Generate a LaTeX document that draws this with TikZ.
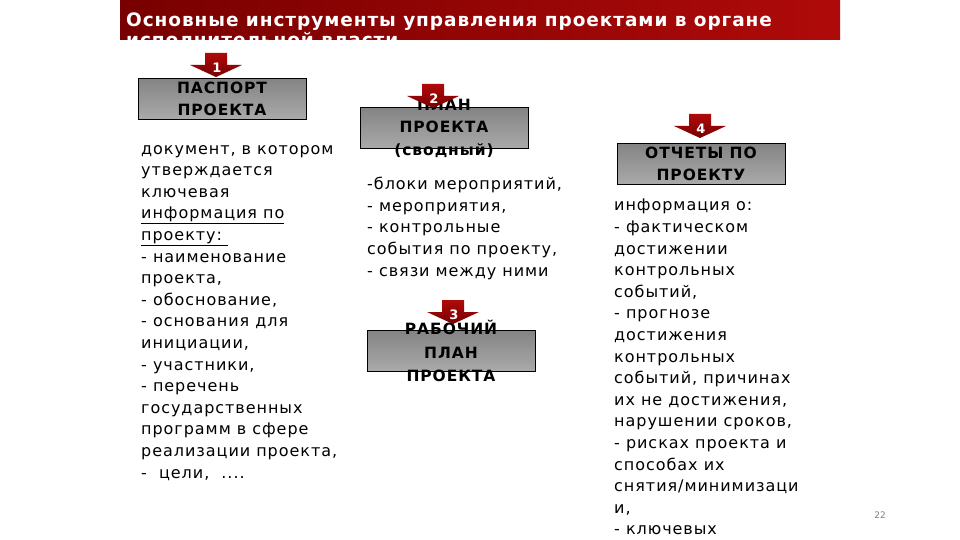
\documentclass[tikz,border=0pt]{standalone}
\usepackage{fontspec}
\setmainfont{DejaVu Sans}
\usepackage{xcolor}
\usetikzlibrary{positioning,calc}
\definecolor{darkred}{RGB}{120,0,0}
\definecolor{brightred}{RGB}{175,10,10}
\definecolor{boxgray}{RGB}{155,155,155}

\begin{document}
\begin{tikzpicture}[x=1pt, y=-1pt,
  boxshape/.style={draw=black, line width=0.6pt, top color=boxgray!85!black, bottom color=boxgray!85!white, minimum width=168pt, minimum height=41pt, inner sep=0pt},
  boxtext/.style={font=\fontsize{15.5}{22.5}\selectfont\bfseries\addfontfeature{LetterSpace=6}, align=center, inner sep=0pt},
  bodytext/.style={font=\fontsize{16}{21.6}\selectfont\addfontfeature{LetterSpace=6}, align=left, anchor=north west, inner sep=0pt},
  numtext/.style={font=\fontsize{13}{13}\selectfont\bfseries, text=white, inner sep=0pt}]
\useasboundingbox (0,0) rectangle (960,540);
\fill[white] (0,0) rectangle (960,540);

% title bar
\shade[left color=darkred, right color=brightred] (120,0) rectangle (840,40);
\begin{scope}
\clip (120,0) rectangle (840,40);
\node[font=\fontsize{18.5}{20}\selectfont\bfseries\addfontfeature{LetterSpace=5}, text=white, align=left, anchor=north west, inner sep=0pt] (title) at (126,13) {Основные инструменты управления проектами в органе\\исполнительной власти};
\end{scope}

% boxes
\node[boxshape] (passport) at (222,99) {};
\node[boxshape] (plan) at (444,128) {};
\node[boxshape] (reports) at (701,164) {};
\node[boxshape] (workplan) at (451,351) {};
\node[boxtext] (passporttext) at (passport) {ПАСПОРТ\\ПРОЕКТА};
\node[boxtext] (plantext) at (plan) {ПЛАН\\ПРОЕКТА\\(сводный)};
\node[boxtext] (reportstext) at (reports) {ОТЧЕТЫ ПО\\ПРОЕКТУ};
\node[boxtext, font=\fontsize{15.5}{23.5}\selectfont\bfseries\addfontfeature{LetterSpace=6}] (workplantext) at (workplan) {РАБОЧИЙ\\ПЛАН\\ПРОЕКТА};

% numbered arrows
\foreach \cx/\tip/\num/\nm in {216/77/1/arrpassport, 433/108/2/arrplan, 700/138/4/arrreports, 453/324/3/arrworkplan}{
  \shade[top color=brightred, bottom color=darkred] (\cx-11,\tip-24) -- (\cx+11,\tip-24) -- (\cx+11,\tip-12) -- (\cx+26,\tip-12) -- (\cx,\tip) -- (\cx-26,\tip-12) -- (\cx-11,\tip-12) -- cycle;
  \node[numtext] (\nm) at (\cx+1,\tip-9) {\num};
}

% texts
\node[bodytext] (passportinfo) at (141,145) {документ, в котором\\утверждается\\ключевая\\\underline{информация по}\\\underline{проекту:\ }\\- наименование\\проекта,\\- обоснование,\\- основания для\\инициации,\\- участники,\\- перечень\\государственных\\программ в сфере\\реализации проекта,\\-\ \ цели,\ \ ....};
\node[bodytext] (planinfo) at (367,177) {-блоки мероприятий,\\- мероприятия,\\- контрольные\\события по проекту,\\- связи между ними};
\node[bodytext] (reportsinfo) at (614,199) {информация о:\\- фактическом\\достижении\\контрольных\\событий,\\- прогнозе\\достижения\\контрольных\\событий, причинах\\их не достижения,\\нарушении сроков,\\- рисках проекта и\\способах их\\снятия/минимизаци\\и,\\- ключевых};

\node[font=\fontsize{9}{9}\selectfont, text=gray] (pagenum) at (880,515) {22};
\end{tikzpicture}
\end{document}
